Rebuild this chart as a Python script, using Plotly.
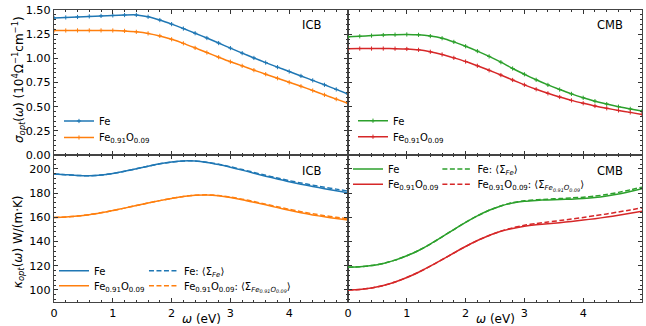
import plotly.graph_objects as go

# ---------------- data ----------------
omega = [0.0, 0.2, 0.4, 0.6, 0.8, 1.0, 1.2, 1.4, 1.6, 1.8, 2.0, 2.2, 2.4, 2.6,
         2.8, 3.0, 3.2, 3.4, 3.6, 3.8, 4.0, 4.2, 4.4, 4.6, 4.8, 5.0]

# optical conductivity (10^4 Ohm^-1 cm^-1)
sigma_icb_fe = [1.418, 1.423, 1.428, 1.434, 1.439, 1.444, 1.448, 1.449, 1.430, 1.396,
                1.354, 1.308, 1.260, 1.210, 1.158, 1.106, 1.054, 1.004, 0.956, 0.909,
                0.864, 0.818, 0.772, 0.726, 0.679, 0.630]
sigma_icb_feo = [1.287, 1.288, 1.289, 1.289, 1.289, 1.288, 1.284, 1.274, 1.258, 1.232,
                 1.197, 1.155, 1.108, 1.060, 1.012, 0.965, 0.922, 0.878, 0.836, 0.794,
                 0.752, 0.711, 0.667, 0.622, 0.578, 0.535]
sigma_cmb_fe = [1.222, 1.228, 1.235, 1.241, 1.245, 1.247, 1.243, 1.230, 1.208, 1.170,
                1.125, 1.075, 1.020, 0.960, 0.895, 0.835, 0.778, 0.725, 0.677, 0.632,
                0.592, 0.557, 0.527, 0.500, 0.477, 0.455]
sigma_cmb_feo = [1.100, 1.101, 1.101, 1.101, 1.100, 1.097, 1.088, 1.068, 1.040, 1.005,
                 0.967, 0.923, 0.876, 0.827, 0.776, 0.726, 0.680, 0.638, 0.600, 0.565,
                 0.535, 0.507, 0.483, 0.461, 0.441, 0.420]

# optical thermal conductivity W/(m K)
kappa_icb_fe = [195.8, 195.2, 194.6, 194.4, 194.9, 196.2, 198.0, 200.1, 202.2, 204.2,
                205.7, 206.6, 206.5, 205.4, 203.6, 201.4, 199.0, 196.5, 194.0, 191.7,
                189.4, 187.4, 185.5, 183.7, 182.0, 180.4]
kappa_icb_fe_avg = [195.8, 195.2, 194.6, 194.4, 194.9, 196.2, 198.0, 200.1, 202.2, 204.2,
                    205.7, 206.6, 206.6, 205.6, 203.9, 201.8, 199.5, 197.1, 194.7, 192.5,
                    190.3, 188.4, 186.6, 184.9, 183.3, 181.7]
kappa_icb_feo = [159.8, 160.2, 161.0, 162.2, 163.8, 165.6, 167.6, 169.7, 171.8, 173.8,
                 175.6, 177.3, 178.3, 178.5, 177.8, 176.4, 174.6, 172.5, 170.3, 168.0,
                 165.8, 163.8, 162.0, 160.4, 159.0, 157.8]
kappa_icb_feo_avg = [159.8, 160.2, 161.0, 162.2, 163.8, 165.6, 167.6, 169.7, 171.8, 173.8,
                     175.6, 177.3, 178.3, 178.6, 178.0, 176.7, 175.0, 173.0, 170.9, 168.7,
                     166.6, 164.7, 162.9, 161.4, 160.0, 158.8]
kappa_cmb_fe = [118.8, 119.1, 120.1, 121.9, 124.6, 128.2, 132.6, 137.9, 143.8, 149.9,
                155.8, 161.2, 165.8, 169.4, 171.9, 173.3, 174.0, 174.4, 174.7, 175.0,
                175.5, 176.3, 177.6, 179.3, 181.4, 183.6]
kappa_cmb_fe_avg = [118.8, 119.1, 120.1, 121.9, 124.6, 128.2, 132.6, 137.9, 143.8, 149.9,
                    155.8, 161.2, 165.8, 169.4, 172.1, 173.6, 174.5, 175.0, 175.5, 176.0,
                    176.6, 177.5, 178.9, 180.6, 182.7, 184.9]
kappa_cmb_feo = [100.0, 100.4, 101.6, 103.6, 106.5, 110.2, 114.6, 119.6, 125.0, 130.5,
                 135.9, 140.8, 145.0, 148.5, 150.8, 152.6, 153.8, 154.7, 155.6, 156.6,
                 157.7, 158.9, 160.2, 161.7, 163.3, 165.0]
kappa_cmb_feo_avg = [100.0, 100.4, 101.6, 103.6, 106.5, 110.2, 114.6, 119.6, 125.0, 130.5,
                     135.9, 140.8, 145.0, 148.6, 151.3, 153.4, 154.9, 156.1, 157.3, 158.6,
                     159.9, 161.3, 162.8, 164.4, 166.1, 167.8]

x_ticks = [0, 1, 2, 3, 4]
sigma_ticks = [0.0, 0.25, 0.5, 0.75, 1.0, 1.25, 1.5]
kappa_ticks = [100, 120, 140, 160, 180, 200]

BLUE, ORANGE, GREEN, RED = "#1f77b4", "#ff7f0e", "#2ca02c", "#d62728"
FONT = "DejaVu Sans"
FEO = "Fe<sub>0.91</sub>O<sub>0.09</sub>"
AVG_FE = "Fe: ⟨Σ<sub><i>Fe</i></sub>⟩"
AVG_FEO = FEO + ": ⟨Σ<sub><i>Fe<sub>0.91</sub>O<sub>0.09</sub></i></sub>⟩"
DASH = "5px,2.5px"

fig = go.Figure()


def add_line(x, y, color, name, xa, ya, legend, dash="solid", markers=False):
    fig.add_trace(go.Scatter(
        x=x, y=y, name=name, xaxis=xa, yaxis=ya, legend=legend, showlegend=True,
        mode="lines+markers" if markers else "lines",
        line=dict(color=color, width=1.5, dash=dash, shape="spline", smoothing=0.6),
        marker=dict(symbol="cross-thin", size=3, line=dict(color=color, width=1)) if markers else None,
    ))


# top panels
add_line(omega, sigma_icb_fe, BLUE, "Fe", "x", "y", "legend13", markers=True)
add_line(omega, sigma_icb_feo, ORANGE, FEO, "x", "y", "legend2", markers=True)
add_line(omega, sigma_cmb_fe, GREEN, "Fe", "x2", "y2", "legend3", markers=True)
add_line(omega, sigma_cmb_feo, RED, FEO, "x2", "y2", "legend4", markers=True)
# bottom-left
add_line(omega, kappa_icb_fe, BLUE, "Fe", "x3", "y3", "legend5")
add_line(omega, kappa_icb_feo, ORANGE, FEO, "x3", "y3", "legend6")
add_line(omega, kappa_icb_fe_avg, BLUE, AVG_FE, "x3", "y3", "legend7", dash=DASH)
add_line(omega, kappa_icb_feo_avg, ORANGE, AVG_FEO, "x3", "y3", "legend8", dash=DASH)
# bottom-right
add_line(omega, kappa_cmb_fe, GREEN, "Fe", "x4", "y4", "legend9")
add_line(omega, kappa_cmb_feo, RED, FEO, "x4", "y4", "legend10")
add_line(omega, kappa_cmb_fe_avg, GREEN, AVG_FE, "x4", "y4", "legend11", dash=DASH)
add_line(omega, kappa_cmb_feo_avg, RED, AVG_FEO, "x4", "y4", "legend12", dash=DASH)

SPLIT = 0.5034
axis_common = dict(
    showline=True, linecolor="#444444", linewidth=1.3, mirror="allticks",
    ticks="inside", ticklen=4, tickwidth=1, tickcolor="#333333",
    showgrid=False, zeroline=False,
    tickfont=dict(family=FONT, size=11.2, color="black"),
)
xcommon = dict(axis_common, range=[0, 5], tickvals=x_ticks,
               minor=dict(dtick=0.2, tick0=0, ticks="inside", ticklen=2, tickcolor="#333333"))
ysig = dict(axis_common, range=[0, 1.5], tickvals=sigma_ticks, tickformat=".2f",
            minor=dict(dtick=0.05, tick0=0, ticks="inside", ticklen=2, tickcolor="#333333"))
ykap = dict(axis_common, range=[90, 211.5], tickvals=kappa_ticks,
            minor=dict(dtick=4, tick0=100, ticks="inside", ticklen=2, tickcolor="#333333"))

fig.update_layout(
    width=646, height=326,
    margin=dict(l=54, r=4, t=10, b=24),
    paper_bgcolor="white", plot_bgcolor="white",
    showlegend=True,
    font=dict(family=FONT, size=11.2, color="black"),
    xaxis=dict(xcommon, domain=[0, 0.5], anchor="y", showticklabels=False),
    yaxis=dict(ysig, domain=[SPLIT, 1], anchor="x"),
    xaxis2=dict(xcommon, domain=[0.5, 1], anchor="y2", showticklabels=False),
    yaxis2=dict(ysig, domain=[SPLIT, 1], anchor="x2", showticklabels=False),
    xaxis3=dict(xcommon, domain=[0, 0.5], anchor="y3"),
    yaxis3=dict(ykap, domain=[0, SPLIT], anchor="x3"),
    xaxis4=dict(xcommon, domain=[0.5, 1], anchor="y4"),
    yaxis4=dict(ykap, domain=[0, SPLIT], anchor="x4", showticklabels=False),
)

leg_common = dict(bgcolor="rgba(0,0,0,0)", font=dict(family=FONT, size=10, color="black"),
                  xanchor="left", yanchor="middle", tracegroupgap=0, itemwidth=30)
legend_pos = {
    "legend13": (0.0085, 0.6199), "legend2": (0.0085, 0.5634),
    "legend3": (0.5085, 0.6209), "legend4": (0.5085, 0.5661),
    "legend5": (0.0, 0.1072), "legend6": (0.0, 0.0558),
    "legend7": (0.153, 0.1072), "legend8": (0.153, 0.0558),
    "legend9": (0.5, 0.4555), "legend10": (0.5, 0.4031),
    "legend11": (0.652, 0.4555), "legend12": (0.652, 0.4031),
}
fig.update_layout(**{k: dict(leg_common, x=v[0], y=v[1]) for k, v in legend_pos.items()})

ann_font = dict(family=FONT, size=11.5, color="black")
title_font = dict(family=FONT, size=12, color="black")
annotations = [
    dict(text="ICB", x=0.4575, y=0.9486, xanchor="right", font=ann_font),
    dict(text="CMB", x=0.971, y=0.9486, xanchor="right", font=ann_font),
    dict(text="ICB", x=0.4575, y=0.4503, xanchor="right", font=ann_font),
    dict(text="CMB", x=0.971, y=0.4503, xanchor="right", font=ann_font),
    dict(text="<i>σ</i><sub><i>opt</i></sub>(<i>ω</i>) (10<sup>4</sup>Ω<sup>−1</sup>cm<sup>−1</sup>)",
         x=-0.0595, y=0.760, textangle=-90, xanchor="center", font=title_font),
    dict(text="<i>κ</i><sub><i>opt</i></sub>(<i>ω</i>) W/(m·K)",
         x=-0.0595, y=0.205, textangle=-90, xanchor="center", font=title_font),
    dict(text="<i>ω</i> (eV)", x=0.2517, y=-0.058, xanchor="center", font=title_font),
    dict(text="<i>ω</i> (eV)", x=0.75, y=-0.058, xanchor="center", font=title_font),
]
for a in annotations:
    a.update(xref="paper", yref="paper", showarrow=False, yanchor="middle")
fig.update_layout(annotations=annotations)

fig.write_html("out.html", config={"displayModeBar": False},
               post_script="document.body.style.margin='0px';")
